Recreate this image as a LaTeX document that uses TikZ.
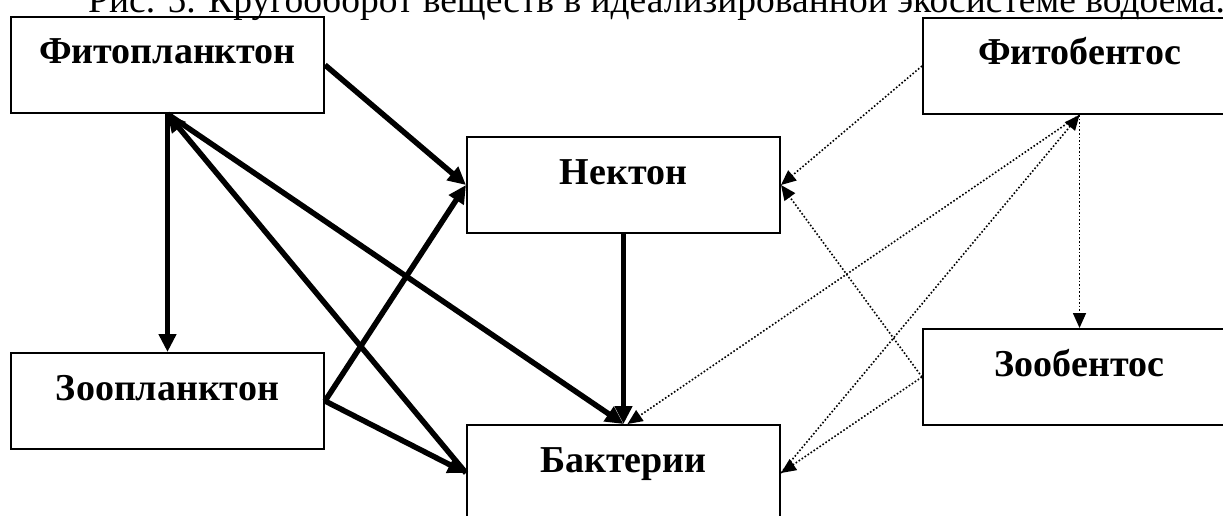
\documentclass[tikz,border=0pt]{standalone}
\usepackage{fontspec}
\setmainfont{Liberation Serif}
\usetikzlibrary{arrows.meta,calc}
\begin{document}
\begin{tikzpicture}[x=1pt,y=-1pt,
  box/.style={draw,line width=2pt,minimum width=313pt,inner xsep=0pt,inner ysep=0pt,
    text height=47pt,text depth=49pt,anchor=north west,
    font=\fontsize{38}{40}\selectfont\bfseries},
  flow/.style={line width=5.5pt,-{Triangle[length=18pt,width=17pt]}},
  dotflow/.style={line width=1.6pt,dash pattern=on 1.6pt off 2pt,-{Triangle[length=15pt,width=13pt]}},
  titletext/.style={anchor=base west,inner sep=0pt,font=\fontsize{37.5}{40}\selectfont}
]
\useasboundingbox (0,0) rectangle (1223,516);
\clip (0,0) rectangle (1223,516);
\node[titletext] (title) at (88,13) {Рис. 5. Кругооборот веществ в идеализированной экосистеме водоема.};
\node[box] (fito) at (10,16) {Фитопланктон};
\node[box] (nek) at (466,136) {Нектон};
\node[box] (zoo) at (10,352) {Зоопланктон};
\node[box] (bak) at (466,424) {Бактерии};
\node[box] (fb) at (922,17) {Фитобентос};
\node[box] (zb) at (922,328) {Зообентос};
% solid flows
\draw[flow] (fito.east) -- (nek.west);
\draw[flow] (zoo.east) -- (nek.west);
\draw[flow] (zoo.east) -- (bak.west);
\draw[flow] (fito.south) -- (zoo.north);
\draw[flow] (bak.west) -- (fito.south);
\draw[flow] (fito.south) -- (bak.north);
\draw[flow] (nek.south) -- (bak.north);
% dotted flows
\draw[dotflow] (fb.west) -- (nek.east);
\draw[dotflow] (zb.west) -- (nek.east);
\draw[dotflow] (fb.south) -- (zb.north);
\draw[dotflow] (bak.east) -- (fb.south);
\draw[dotflow] (fb.south) -- ([xshift=4pt]bak.north);
\draw[dotflow] (zb.west) -- (bak.east);
\end{tikzpicture}
\end{document}
